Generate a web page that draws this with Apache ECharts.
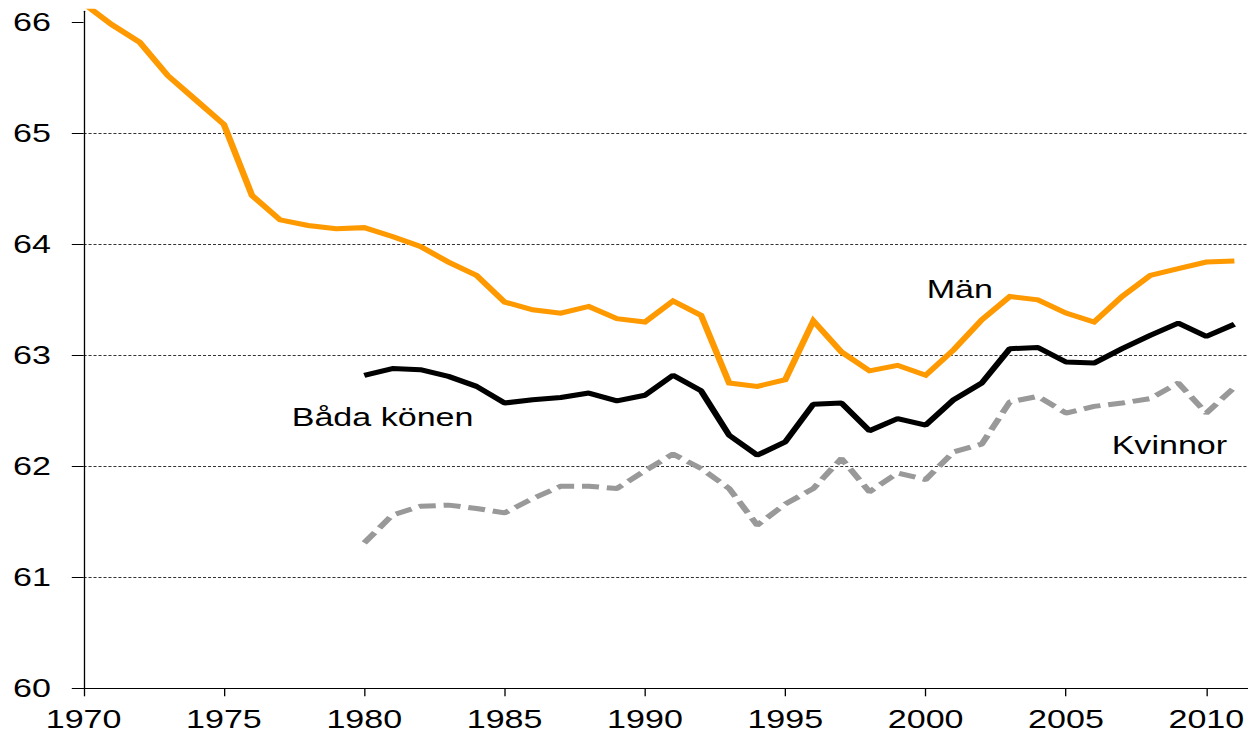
<!DOCTYPE html>
<html>
<head>
<meta charset="utf-8">
<script src="https://cdn.jsdelivr.net/npm/echarts@6/dist/echarts.min.js"></script>
<style>
  html, body { margin: 0; padding: 0; background: #fff; overflow: hidden; }
  #wrap { width: 1248px; height: 734px; overflow: hidden; position: relative; }
  #chart { width: 953px; height: 734px; transform: scaleX(1.31); transform-origin: 0 0; position: absolute; left: 0; top: 0; }
</style>
</head>
<body>
<div id="wrap"><div id="chart"></div></div>
<script>
// ---- data ----
const yearsMan = [1970,1971,1972,1973,1974,1975,1976,1977,1978,1979,1980,1981,1982,1983,1984,1985,1986,1987,1988,1989,1990,1991,1992,1993,1994,1995,1996,1997,1998,1999,2000,2001,2002,2003,2004,2005,2006,2007,2008,2009,2010,2011];
const yearsBoth = [1980,1981,1982,1983,1984,1985,1986,1987,1988,1989,1990,1991,1992,1993,1994,1995,1996,1997,1998,1999,2000,2001,2002,2003,2004,2005,2006,2007,2008,2009,2010,2011];
const man = [66.17,65.98,65.82,65.52,65.30,65.08,64.44,64.22,64.17,64.14,64.15,64.07,63.98,63.84,63.72,63.48,63.41,63.38,63.44,63.33,63.30,63.49,63.36,62.75,62.72,62.78,63.31,63.03,62.86,62.91,62.82,63.05,63.32,63.53,63.50,63.38,63.30,63.53,63.72,63.78,63.84,63.85];
const bada = [62.82,62.88,62.87,62.81,62.72,62.57,62.60,62.62,62.66,62.59,62.64,62.82,62.68,62.28,62.10,62.22,62.56,62.57,62.32,62.43,62.37,62.60,62.75,63.06,63.07,62.94,62.93,63.06,63.18,63.29,63.17,63.28];
const kvinnor = [61.31,61.56,61.64,61.65,61.62,61.58,61.71,61.82,61.82,61.80,61.96,62.11,61.98,61.80,61.47,61.66,61.80,62.07,61.77,61.94,61.88,62.13,62.20,62.58,62.63,62.48,62.54,62.57,62.61,62.75,62.48,62.71];
const xTicks = [1970,1975,1980,1985,1990,1995,2000,2005,2010];
const yTicks = [60,61,62,63,64,65,66];
const seriesNames = ['Män','Båda könen','Kvinnor'];

const pairs = (xs, ys) => xs.map((x, i) => [x, ys[i]]);
const FONT = 'Liberation Sans, Arial, sans-serif';

const chart = echarts.init(document.getElementById('chart'), null, { renderer: 'svg' });
chart.setOption({
  animation: false,
  backgroundColor: '#ffffff',
  grid: { left: 63.8, right: 0, top: 11.2, bottom: 45.7, containLabel: false },
  xAxis: {
    type: 'value', min: 1970, max: 2011.5, interval: 5,
    axisLine: { show: true, lineStyle: { color: '#000', width: 1 } },
    axisTick: { show: true, inside: false, length: 8, customValues: xTicks, lineStyle: { color: '#000', width: 1 } },
    axisLabel: { customValues: xTicks, formatter: v => String(v), fontFamily: FONT, fontSize: 26, color: '#000', margin: 18 },
    splitLine: { show: false }
  },
  yAxis: {
    type: 'value', min: 60, max: 66.1, interval: 1,
    axisLine: { show: true, lineStyle: { color: '#000', width: 1 } },
    axisTick: { show: true, inside: false, length: 9, customValues: yTicks, lineStyle: { color: '#000', width: 1 } },
    axisLabel: { customValues: yTicks, formatter: v => String(v), fontFamily: FONT, fontSize: 26, color: '#000', margin: 25 },
    splitLine: { show: true, showMinLine: false, showMaxLine: false, lineStyle: { color: '#333', width: 1, type: [2.3, 1.5] } }
  },
  series: [
    { name: seriesNames[0], type: 'line', data: pairs(yearsMan, man), symbol: 'none', clip: true,
      lineStyle: { color: '#FF9900', width: 5, cap: 'butt', join: 'miter' } },
    { name: seriesNames[1], type: 'line', data: pairs(yearsBoth, bada), symbol: 'none', clip: true,
      lineStyle: { color: '#000000', width: 5, cap: 'butt' } },
    { name: seriesNames[2], type: 'line', data: pairs(yearsBoth, kvinnor), symbol: 'none', clip: true,
      lineStyle: { color: '#999999', width: 5, type: [13, 6], cap: 'butt' } }
  ],
  graphic: [
    { type: 'text', left: 707.4, top: 290.5 - 15, style: { text: seriesNames[0], font: '26px ' + FONT, fill: '#000' } },
    { type: 'text', left: 222.7, top: 419 - 15, style: { text: seriesNames[1], font: '26px ' + FONT, fill: '#000' } },
    { type: 'text', left: 848.6, top: 447 - 15, style: { text: seriesNames[2], font: '26px ' + FONT, fill: '#000' } }
  ]
});
</script>
</body>
</html>
